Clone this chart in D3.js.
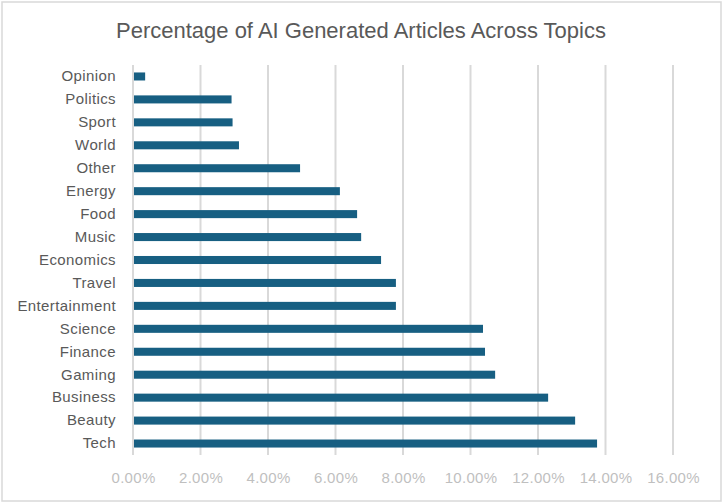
<!DOCTYPE html>
<html>
<head>
<meta charset="utf-8">
<script src="https://cdn.jsdelivr.net/npm/d3@7"></script>
<style>
  html, body { margin: 0; padding: 0; background: #fff; }
  svg { display: block; font-family: "Liberation Sans", Arial, Helvetica, sans-serif; }
</style>
</head>
<body>
<svg id="chart" width="724" height="504"></svg>
<script>
const categories = ["Opinion","Politics","Sport","World","Other","Energy","Food","Music","Economics","Travel","Entertainment","Science","Finance","Gaming","Business","Beauty","Tech"];
const values = [0.0036,0.0292,0.0295,0.0314,0.0495,0.0613,0.0664,0.0676,0.0735,0.0779,0.0779,0.1037,0.1043,0.1073,0.1230,0.1310,0.1375];
const tickValues = [0,0.02,0.04,0.06,0.08,0.10,0.12,0.14,0.16];
const title = "Percentage of AI Generated Articles Across Topics";

const svg = d3.select("#chart");
const W = 724, H = 504;
const m = {left: 133, right: 51, top: 65, bottom: 49};

svg.append("rect").attr("x", 2).attr("y", 2).attr("width", 719).attr("height", 499)
  .attr("fill", "#fff").attr("stroke", "#d9d9d9").attr("stroke-width", 1.5);

svg.append("text").attr("x", 361).attr("y", 38).attr("text-anchor", "middle")
  .attr("font-size", 22).attr("fill", "#595959").text(title);

const x = d3.scaleLinear().domain([0, 0.16]).range([m.left, W - m.right]);
const y = d3.scaleBand().domain(categories).range([m.top, H - m.bottom]).paddingInner(0.65).paddingOuter(0.325);

// gridlines
svg.append("g").selectAll("line").data(tickValues).join("line")
  .attr("x1", d => x(d)).attr("x2", d => x(d))
  .attr("y1", m.top).attr("y2", H - m.bottom)
  .attr("stroke", "#d9d9d9").attr("stroke-width", 2);

// bars
svg.append("g").selectAll("rect").data(categories).join("rect")
  .attr("x", x(0) + 1)
  .attr("y", d => y(d))
  .attr("width", (d, i) => x(values[i]) - x(0) - 1)
  .attr("height", y.bandwidth())
  .attr("fill", "#175f82");

// y axis labels
const yAxis = d3.axisLeft(y).tickSize(0).tickPadding(17);
const gy = svg.append("g").attr("transform", `translate(${m.left},0)`).call(yAxis);
gy.select(".domain").remove();
gy.selectAll("text").attr("font-size", 15).attr("fill", "#595959")
  .attr("font-family", "'Liberation Sans', Arial, sans-serif").style("letter-spacing", "0.4px");

// x axis labels
const xAxis = d3.axisBottom(x).tickValues(tickValues).tickFormat(d3.format(".2%")).tickSize(0).tickPadding(17);
const gx = svg.append("g").attr("transform", `translate(0,${H - m.bottom})`).call(xAxis);
gx.select(".domain").remove();
gx.selectAll("text").attr("font-size", 15).attr("fill", "#bfbfbf")
  .attr("font-family", "'Liberation Sans', Arial, sans-serif").style("letter-spacing", "0.3px");
</script>
</body>
</html>
